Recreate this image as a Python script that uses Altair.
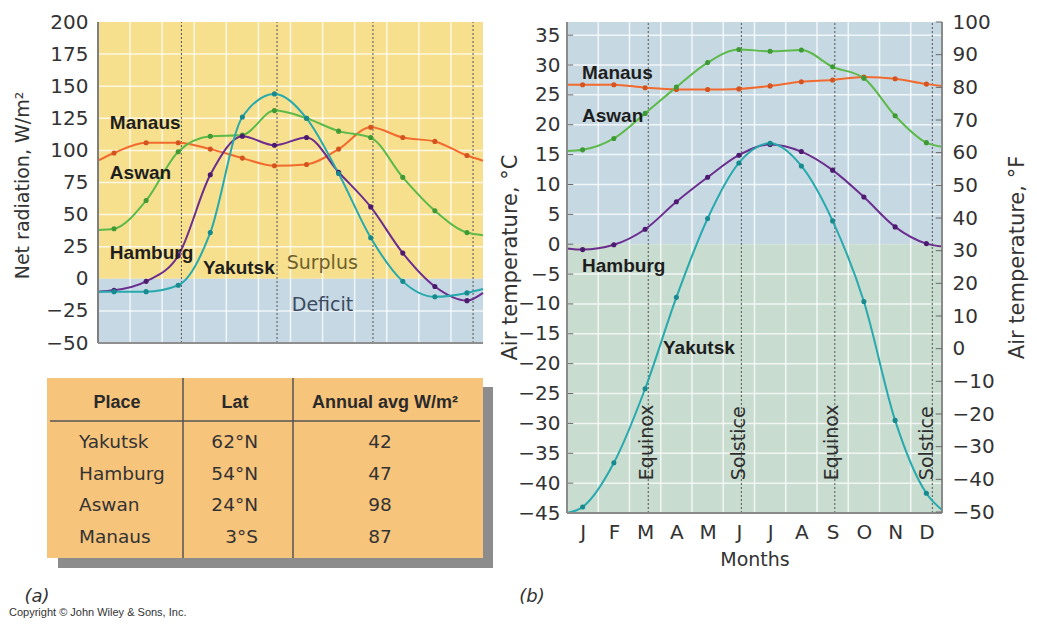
import altair as alt
import pandas as pd

# ---------------- data ----------------
month_letters = ['J', 'F', 'M', 'A', 'M', 'J', 'J', 'A', 'S', 'O', 'N', 'D']
month_mid = [0.5, 1.5, 2.5, 3.5, 4.5, 5.5, 6.5, 7.5, 8.5, 9.5, 10.5, 11.5]
month_edges = [1, 2, 3, 4, 5, 6, 7, 8, 9, 10, 11]
season_x = [2.6, 5.58, 8.57, 11.69]
season_names = ['Equinox', 'Solstice', 'Equinox', 'Solstice']
season_label_x = [2.75, 5.7, 8.67, 11.7]

places = ['Manaus', 'Aswan', 'Hamburg', 'Yakutsk']
line_colors = ['#f26a2e', '#5cb94a', '#6b2d8e', '#27a9ad']
point_colors = ['#d4531f', '#3f9a36', '#4c1a6e', '#168a8e']

# net radiation, W/m2 (monthly)
rad = {
    'Manaus': [98, 106, 106, 101, 94, 88, 89, 101, 118, 110, 107, 96],
    'Aswan': [39, 61, 99, 111, 112, 131, 125, 115, 110, 79, 53, 36],
    'Hamburg': [-9, -2, 18, 81, 111, 104, 110, 83, 56, 20, -6, -17],
    'Yakutsk': [-10, -10, -5, 36, 126, 144, 125, 82, 32, -2, -14, -11],
}
rad_start = {'Manaus': 92, 'Aswan': 38, 'Hamburg': -10, 'Yakutsk': -10}
rad_end = {'Manaus': 92, 'Aswan': 34, 'Hamburg': -11, 'Yakutsk': -8}

# air temperature, deg C (monthly)
temp = {
    'Manaus': [26.7, 26.7, 26.2, 25.9, 25.9, 26.0, 26.5, 27.2, 27.5, 28.0, 27.7, 26.8],
    'Aswan': [15.8, 17.7, 21.9, 26.3, 30.4, 32.6, 32.3, 32.5, 29.7, 27.8, 21.5, 17.0],
    'Hamburg': [-0.9, -0.1, 2.5, 7.1, 11.2, 14.9, 16.7, 15.5, 12.4, 7.9, 2.9, 0.1],
    'Yakutsk': [-44.0, -36.6, -24.2, -8.9, 4.3, 13.6, 16.9, 13.1, 3.9, -9.6, -29.5, -41.7],
}
temp_start = {'Manaus': 26.7, 'Aswan': 15.6, 'Hamburg': -0.7, 'Yakutsk': -45.0}
temp_end = {'Manaus': 26.5, 'Aswan': 16.3, 'Hamburg': -0.4, 'Yakutsk': -44.5}

rad_ticks = [-50, -25, 0, 25, 50, 75, 100, 125, 150, 175, 200]
c_ticks = [-45, -40, -35, -30, -25, -20, -15, -10, -5, 0, 5, 10, 15, 20, 25, 30, 35]
f_ticks = [-50, -40, -30, -20, -10, 0, 10, 20, 30, 40, 50, 60, 70, 80, 90, 100]

# series labels
rad_label_x = [0.37, 0.37, 0.37, 3.27]
rad_label_y = [117, 78, 15.6, 4]
temp_label_x = [0.48, 0.48, 0.48, 3.07]
temp_label_y = [27.6, 20.4, -4.7, -18.4]

table_place = ['Yakutsk', 'Hamburg', 'Aswan', 'Manaus']
table_lat = ['62°N', '54°N', '24°N', '3°S']
table_avg = ['42', '47', '98', '87']
table_head = ['Place', 'Lat', 'Annual avg W/m²']

FONT = 'DejaVu Sans, Liberation Sans, sans-serif'
BFONT = 'Liberation Sans, Arial, sans-serif'
TXT = '#333333'

# ---------------- helpers ----------------
def line_df(values, starts, ends):
    rows = []
    for p, lc, pc in zip(places, line_colors, point_colors):
        rows.append({'place': p, 'x': 0.0, 'v': starts[p], 'lc': lc, 'pc': pc, 'pt': False})
        for xm, v in zip(month_mid, values[p]):
            rows.append({'place': p, 'x': xm, 'v': v, 'lc': lc, 'pc': pc, 'pt': True})
        rows.append({'place': p, 'x': 12.0, 'v': ends[p], 'lc': lc, 'pc': pc, 'pt': False})
    return pd.DataFrame(rows)


def panel(xs, ys, lines, bg, hgrid, ylo, yhi, labels_x, labels_y, extra=None):
    X = lambda f: alt.X(f, scale=xs, axis=None)
    Y = lambda f: alt.Y(f, scale=ys, axis=None)
    bg_c = alt.Chart(bg).mark_rect().encode(
        x=X('x0:Q'), x2='x1:Q', y=Y('y0:Q'), y2='y1:Q',
        color=alt.Color('c:N', scale=None))
    vgrid = alt.Chart(pd.DataFrame({'x': month_edges, 'lo': ylo, 'hi': yhi})).mark_rule(
        color='white', strokeWidth=1.5, opacity=0.75).encode(x=X('x:Q'), y=Y('lo:Q'), y2='hi:Q')
    hg = alt.Chart(pd.DataFrame({'y': hgrid, 'a': 0, 'b': 12})).mark_rule(
        color='white', strokeWidth=1.5, opacity=0.75).encode(y=Y('y:Q'), x=X('a:Q'), x2='b:Q')
    seas = alt.Chart(pd.DataFrame({'x': season_x, 'lo': ylo, 'hi': yhi})).mark_rule(
        color='#555555', strokeWidth=1, strokeDash=[2, 2]).encode(x=X('x:Q'), y=Y('lo:Q'), y2='hi:Q')
    ln = alt.Chart(lines).mark_line(interpolate='monotone', strokeWidth=2).encode(
        x=X('x:Q'), y=Y('v:Q'), color=alt.Color('lc:N', scale=None), detail='place:N')
    pts = alt.Chart(lines).transform_filter('datum.pt').mark_circle(size=26, opacity=1).encode(
        x=X('x:Q'), y=Y('v:Q'), color=alt.Color('pc:N', scale=None))
    lab = alt.Chart(pd.DataFrame({'t': places, 'x': labels_x, 'y': labels_y})).mark_text(
        font=BFONT, fontSize=19, fontWeight='bold', align='left', baseline='alphabetic',
        color='#1e1e1e').encode(x=X('x:Q'), y=Y('y:Q'), text='t:N')
    layers = [bg_c, vgrid, hg, seas, ln, pts, lab]
    if extra:
        layers += extra(X, Y)
    return layers


# ---------------- left panel (net radiation) ----------------
xL = alt.Scale(domain=[0, 12], range=[0, 385])
yL = alt.Scale(domain=[-50, 200], range=[321, 0])
bgL = pd.DataFrame({'x0': [0, 0], 'x1': [12, 12], 'y0': [0, -50], 'y1': [200, 0],
                    'c': ['#f6e08e', '#c5d8e4']})


def left_extra(X, Y):
    sd = alt.Chart(pd.DataFrame({'t': ['Surplus', 'Deficit'], 'x': [5.88, 6.04], 'y': [7.8, -25],
                                 'c': ['#6e5f2a', '#3c4a5e']})).mark_text(
        font=FONT, fontSize=19, align='left', baseline='alphabetic').encode(
        x=X('x:Q'), y=Y('y:Q'), text='t:N', color=alt.Color('c:N', scale=None))
    border_v = alt.Chart(pd.DataFrame({'x': [0], 'lo': [-50], 'hi': [200]})).mark_rule(
        color='#7f7f7f', strokeWidth=2).encode(x=X('x:Q'), y=Y('lo:Q'), y2='hi:Q')
    border_h = alt.Chart(pd.DataFrame({'y': [-50], 'a': [0], 'b': [12]})).mark_rule(
        color='#8f8f8f', strokeWidth=2).encode(y=Y('y:Q'), x=X('a:Q'), x2='b:Q')
    return [sd, border_v, border_h]


left = alt.layer(*panel(xL, yL, line_df(rad, rad_start, rad_end), bgL,
                        [-25, 25, 50, 75, 100, 125, 150, 175], -50, 200,
                        rad_label_x, rad_label_y, left_extra))

# ---------------- right panel (temperature) ----------------
xR = alt.Scale(domain=[0, 12], range=[469, 844])
yC = alt.Scale(domain=[-45, 37.2], range=[491, 0])
bgR = pd.DataFrame({'x0': [0, 0], 'x1': [12, 12], 'y0': [0, -45], 'y1': [37.2, 0],
                    'c': ['#c6d9e3', '#c8dccf']})
letters_expr = '[' + ','.join("'%s'" % m for m in month_letters) + '][floor(datum.value)]'


def right_extra(X, Y):
    seas_lab = alt.Chart(pd.DataFrame({'t': season_names, 'x': season_label_x,
                                       'y': [-39.5] * 4})).mark_text(
        font=FONT, fontSize=19, angle=270, align='left', baseline='alphabetic', color='#2e2e2e').encode(
        x=X('x:Q'), y=Y('y:Q'), text='t:N')
    ticks = alt.Chart(pd.DataFrame({'y': c_ticks, 'a': 0, 'b': 0.2})).mark_rule(
        color='#666666', strokeWidth=1).encode(y=Y('y:Q'), x=X('a:Q'), x2='b:Q')
    bv = alt.Chart(pd.DataFrame({'x': [0, 12], 'lo': [-45, -45], 'hi': [37.2, 37.2]})).mark_rule(
        color='#8a8a8a', strokeWidth=2).encode(x=X('x:Q'), y=Y('lo:Q'), y2='hi:Q')
    bh = alt.Chart(pd.DataFrame({'y': [-45], 'a': [0], 'b': [12]})).mark_rule(
        color='#8a8a8a', strokeWidth=2).encode(y=Y('y:Q'), x=X('a:Q'), x2='b:Q')
    return [seas_lab, ticks, bv, bh]


right = alt.layer(*panel(xR, yC, line_df(temp, temp_start, temp_end), bgR,
                         [-40, -35, -30, -25, -20, -15, -10, -5, 5, 10, 15, 20, 25, 30, 35],
                         -45, 37.2, temp_label_x, temp_label_y, right_extra))

# ---------------- axes (top-level carriers) ----------------
axis_common = dict(ticks=False, domain=False, grid=False, labelFont=FONT, labelFontSize=20,
                   labelColor=TXT, titleFont=FONT, titleFontWeight='normal', titleColor=TXT,
                   titleAngle=270, titleAlign='center', titleBaseline='middle', titleLimit=400)

ax_left = alt.Chart(pd.DataFrame({'y': rad_ticks, 'x': 0})).mark_point(opacity=0).encode(
    x=alt.X('x:Q', scale=xL, axis=None),
    y=alt.Y('y:Q', scale=yL, axis=alt.Axis(
        orient='left', values=rad_ticks, labelPadding=10, title='Net radiation, W/m²',
        titleFontSize=19, titleX=-76, titleY=163, **axis_common)))

ax_c = alt.Chart(pd.DataFrame({'y': c_ticks, 'x': 0})).mark_point(opacity=0).encode(
    x=alt.X('x:Q', scale=xR, axis=None),
    y=alt.Y('y:Q', scale=yC, axis=alt.Axis(
        orient='left', offset=-469, values=c_ticks, labelPadding=7, title='Air temperature, °C',
        titleFontSize=21, titleX=-57, titleY=235, **axis_common)))

ax_m = alt.Chart(pd.DataFrame({'x': month_mid, 'y': -45})).mark_point(opacity=0).encode(
    x=alt.X('x:Q', scale=xR, axis=alt.Axis(
        orient='bottom', values=month_mid, labelExpr=letters_expr, ticks=False, domain=False,
        grid=False, labelFont=FONT, labelFontSize=20, labelColor=TXT, labelPadding=9,
        title='Months', titleFont=FONT, titleFontSize=19, titleFontWeight='normal',
        titleColor=TXT, titlePadding=8)),
    y=alt.Y('y:Q', scale=yC, axis=None))

yF = alt.Scale(domain=[-50, 100], range=[490, 0])
fahr = alt.Chart(pd.DataFrame({'y': f_ticks, 'a': 11.8, 'b': 12})).mark_rule(
    color='#666666', strokeWidth=1).encode(
    y=alt.Y('y:Q', scale=yF, axis=alt.Axis(
        orient='right', values=f_ticks, labelPadding=10, title='Air temperature, °F',
        titleFontSize=21, titleX=75, titleY=235, **axis_common)),
    x=alt.X('a:Q', scale=xR, axis=None), x2='b:Q')

# ---------------- table ----------------
one = pd.DataFrame({'k': [0]})
shadow = alt.Chart(one).mark_rect(color='#8c8c8c').encode(
    x=alt.value(-40), x2=alt.value(395), y=alt.value(365), y2=alt.value(546))
tbox = alt.Chart(one).mark_rect(color='#f7c47c').encode(
    x=alt.value(-51), x2=alt.value(385), y=alt.value(356), y2=alt.value(536))
sep1 = alt.Chart(one).mark_rule(color='#555555', strokeWidth=1.5).encode(
    x=alt.value(85), y=alt.value(356), y2=alt.value(536))
sep2 = alt.Chart(one).mark_rule(color='#555555', strokeWidth=1.5).encode(
    x=alt.value(195), y=alt.value(356), y2=alt.value(536))
hline = alt.Chart(one).mark_rule(color='#555555', strokeWidth=1.5).encode(
    x=alt.value(-48), x2=alt.value(382), y=alt.value(399))
head = alt.Chart(pd.DataFrame({'t': table_head, 'px': [19, 137, 287]})).mark_text(
    font=BFONT, fontSize=18, fontWeight='bold', baseline='middle', align='center', color='#2a2a2a').encode(
    x=alt.X('px:Q', scale=alt.Scale(domain=[0, 100], range=[0, 100]), axis=None),
    y=alt.value(381), text='t:N')
tdf = pd.DataFrame({'place': table_place, 'lat': table_lat, 'avg': table_avg, 'r': [0, 1, 2, 3]})
ty = alt.Y('r:Q', scale=alt.Scale(domain=[0, 3], range=[420, 515]), axis=None)
t1 = alt.Chart(tdf).mark_text(font=FONT, fontSize=18.5, align='left', baseline='middle', color='#333').encode(
    x=alt.value(-19), y=ty, text='place:N')
t2 = alt.Chart(tdf).mark_text(font=FONT, fontSize=18.5, align='right', baseline='middle', color='#333').encode(
    x=alt.value(160), y=ty, text='lat:N')
t3 = alt.Chart(tdf).mark_text(font=FONT, fontSize=18.5, align='center', baseline='middle', color='#333').encode(
    x=alt.value(282), y=ty, text='avg:N')
notes = alt.Chart(pd.DataFrame({'t': ['(a)', '(b)'], 'px': [-61, 434]})).mark_text(
    font=FONT, fontSize=18, fontStyle='italic', align='center', baseline='alphabetic', color='#333').encode(
    x=alt.X('px:Q', scale=alt.Scale(domain=[0, 100], range=[0, 100]), axis=None),
    y=alt.value(580), text='t:N')
copy = alt.Chart(pd.DataFrame({'t': ['Copyright © John Wiley & Sons, Inc.']})).mark_text(
    font=BFONT, fontSize=11, align='left', baseline='alphabetic', color='#333').encode(
    x=alt.value(-89), y=alt.value(594), text='t:N')
table = alt.layer(shadow, tbox, sep1, sep2, hline, t1, t2, t3)

chart = alt.layer(left, right, ax_left, ax_c, ax_m, fahr, table, head, notes, copy).resolve_scale(
    x='independent', y='independent'
).properties(
    width=844, height=491,
    autosize=alt.AutoSizeParams(type='none'),
    padding={'left': 90, 'top': 14, 'right': 87, 'bottom': 108},
).configure_view(stroke=None)

chart.save('out.html', embed_options={'renderer': 'svg', 'actions': False})
